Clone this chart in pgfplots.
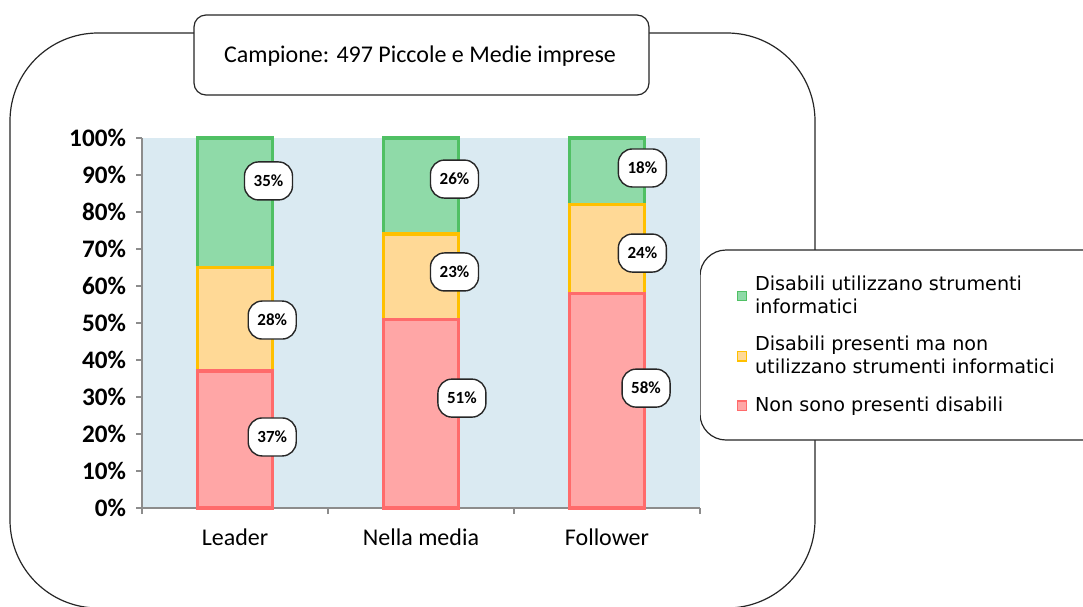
\documentclass[border=0pt]{standalone}
\usepackage{pgfplots}
\pgfplotsset{compat=1.18}
\usepackage{fontspec}
\setmainfont{Carlito}
\newfontfamily\legfont{DejaVu Sans}
\definecolor{bgblue}{RGB}{218,234,242}
\definecolor{gfill}{RGB}{143,218,168}
\definecolor{gline}{RGB}{80,192,100}
\definecolor{yfill}{RGB}{255,217,150}
\definecolor{yline}{RGB}{255,192,0}
\definecolor{rfill}{RGB}{255,166,166}
\definecolor{rline}{RGB}{255,107,107}
\definecolor{axgray}{RGB}{140,140,140}
\begin{document}
\begin{tikzpicture}
\begin{scope}[x=0.5pt,y=-0.5pt]
\useasboundingbox (0,0) rectangle (1083,606);
\end{scope}
\begin{scope}[x=0.5pt,y=-0.5pt]
\clip (0,0) rectangle (1083,606);
\draw[line width=0.6pt, draw=black!85, rounded corners=44pt] (10,608) -- (10,33) -- (815,33) -- (815,608) -- cycle;
\draw[line width=0.6pt, draw=black!85, fill=white, rounded corners=6pt] (194,15) rectangle (649,95);
\node[font=\fontsize{12}{14}\selectfont] at (420,56) {Campione: 497 Piccole e Medie imprese};
\draw[line width=0.6pt, draw=black!85, fill=white, rounded corners=13pt] (700,250) rectangle (1110,440);
\end{scope}
\begin{axis}[
  at={(71pt,-254pt)}, anchor=south west,
  scale only axis, width=279pt, height=185pt,
  ybar stacked, bar width=37.5pt,
  xmin=-0.5, xmax=2.5, ymin=0, ymax=100,
  axis background/.style={fill=bgblue},
  axis x line*=bottom, axis y line*=left,
  axis line style={-, draw=axgray, line width=0.8pt},
  tick align=outside, major tick length=3pt,
  tick style={draw=axgray, line width=0.8pt},
  ytick={0,10,...,100},
  yticklabel={\pgfmathprintnumber{\tick}\%},
  /pgf/number format/assume math mode=true,
  yticklabel style={font=\bfseries\fontsize{12.6}{14}\selectfont, xshift=-1.5pt},
  xtick={-0.5,0.5,1.5,2.5}, xticklabels={},
  extra x ticks={0,1,2},
  extra x tick labels={Leader,Nella media,Follower},
  extra x tick style={major tick length=0pt, xticklabel style={font=\fontsize{12}{14}\selectfont, yshift=-7pt}},
  legend image code/.code={\draw[#1, line width=0.6pt] (0pt,-2.3pt) rectangle (4.6pt,2.3pt);},
  reverse legend,
  legend cell align=left,
  legend style={draw=none, fill=none, at={(1.065,0.64)}, anchor=north west,
    cells={align=left}, font=\legfont\fontsize{9.6}{11.5}\selectfont,
    row sep=6pt, inner sep=0pt, nodes={inner xsep=4pt}},
  clip=false,
]
\addplot[fill=rfill, draw=rline, line width=1.8pt] coordinates {(0,37) (1,51) (2,58)};
\addlegendentry{Non sono presenti disabili}
\addplot[fill=yfill, draw=yline, line width=1.8pt] coordinates {(0,28) (1,23) (2,24)};
\addlegendentry{Disabili presenti ma non\\utilizzano strumenti informatici}
\addplot[fill=gfill, draw=gline, line width=1.8pt] coordinates {(0,35) (1,26) (2,18)};
\addlegendentry{Disabili utilizzano strumenti\\informatici}
\coordinate (a1) at (axis cs:0.18,88.4);
\coordinate (a2) at (axis cs:0.20,50.8);
\coordinate (a3) at (axis cs:0.20,19.2);
\coordinate (b1) at (axis cs:1.18,88.9);
\coordinate (b2) at (axis cs:1.18,63.8);
\coordinate (b3) at (axis cs:1.22,29.7);
\coordinate (c1) at (axis cs:2.19,91.9);
\coordinate (c2) at (axis cs:2.19,68.9);
\coordinate (c3) at (axis cs:2.21,32.4);
\end{axis}
\tikzset{lab/.style={draw=black!85, fill=white, rounded corners=7pt, line width=0.7pt,
  minimum width=24pt, minimum height=19pt, inner sep=1pt, font=\bfseries\fontsize{8.5}{10}\selectfont}}
\node[lab] at (a1) {35\%};
\node[lab] at (a2) {28\%};
\node[lab] at (a3) {37\%};
\node[lab] at (b1) {26\%};
\node[lab] at (b2) {23\%};
\node[lab] at (b3) {51\%};
\node[lab] at (c1) {18\%};
\node[lab] at (c2) {24\%};
\node[lab] at (c3) {58\%};
\end{tikzpicture}
\end{document}
